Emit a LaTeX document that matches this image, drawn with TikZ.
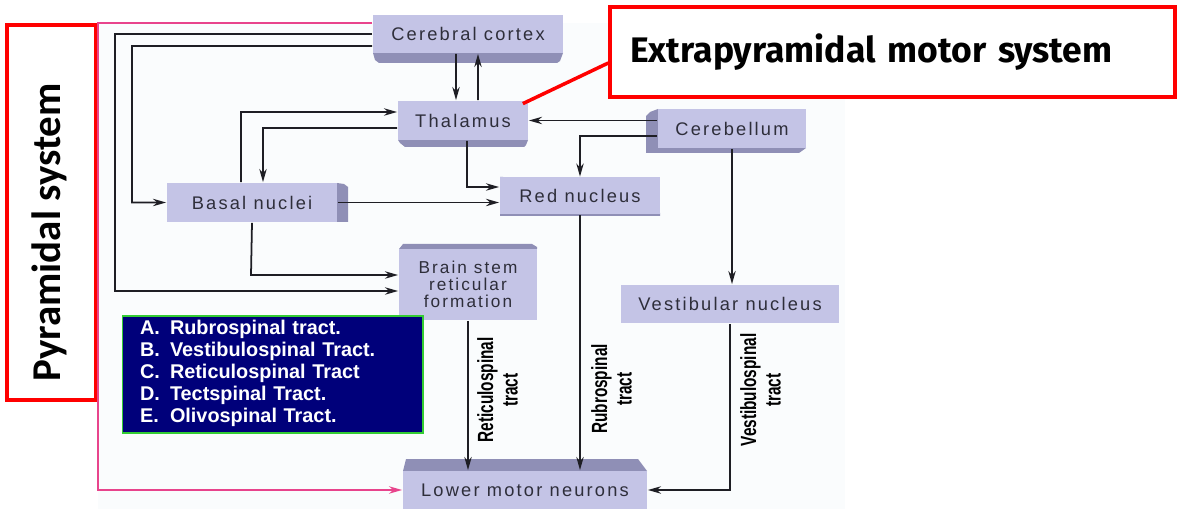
\documentclass[tikz,border=0pt]{standalone}
\usepackage{fontspec}
\setmainfont{Liberation Sans}
\newfontfamily\organfont{Liberation Sans}[LetterSpace=12]
\newfontfamily\calloutfont{Fira Sans}
\newfontfamily\pyramidfont{Carlito}
\usepackage{tikz}
\usetikzlibrary{calc, arrows.meta, positioning}

\definecolor{organFill}{HTML}{C4C4E6}
\definecolor{organShade}{HTML}{8F8FB6}
\definecolor{organText}{HTML}{2E2E3A}
\definecolor{linkGrey}{HTML}{1E1E24}
\definecolor{pinkLine}{HTML}{E8448C}
\definecolor{legendFill}{HTML}{00007A}
\definecolor{legendLine}{HTML}{33CC33}
\definecolor{paper}{HTML}{FAFCFD}

\newcommand{\narrowtxt}[1]{\scalebox{0.7}[1]{#1}}

\begin{document}
\begin{tikzpicture}[x=0.02cm, y=-0.02cm, >={Stealth[length=7.5pt,width=4.2pt]}, line width=1pt]
        % Estilos para las cajas, sombras, textos y conexiones
        \tikzstyle{organ} = [fill=organFill, text=organText, inner sep=0pt, minimum height=0.78cm, font=\organfont\fontsize{10.4}{10.8}\selectfont, align=center]
        \tikzstyle{shade} = [fill=organShade]
        \tikzstyle{tract} = [rotate=90, align=center, inner sep=0pt, font=\bfseries\fontsize{12.5}{14}\selectfont]
        \tikzstyle{link} = [draw=linkGrey, line width=1pt]
        \tikzstyle{callout} = [draw=red, line width=2pt, fill=white, inner sep=0pt]
        \tikzstyle{legend} = [fill=legendFill, draw=legendLine, line width=0.6pt, text=white, inner xsep=0.36cm, inner ysep=0pt, font=\bfseries\fontsize{11.3}{12.5}\selectfont, align=left]

        \useasboundingbox (0,0) rectangle (1182,509);
        \fill [paper] (98,23) rectangle (845,509);

        % Sombras de las cajas
        \fill [shade] (373,53) -- (563,53) -- (560,61) -- (557,63) -- (379,63) -- (375,60) -- cycle;
        \fill [shade] (398,140) -- (528,140) -- (526,145) -- (524,147) -- (405,147) -- (400,143) -- cycle;
        \fill [shade] (337,183) -- (344,184) -- (348,187) -- (348,222) -- (337,222) -- cycle;
        \fill [shade] (658,109) -- (650,112) -- (646,116) -- (646,153) -- (799,153) -- (806,148) -- (658,148) -- cycle;
        \fill [shade] (399,249) -- (403,244) -- (532,244) -- (537,247) -- (537,249) -- cycle;
        \fill [shade] (500,177) -- (503,177) -- (503,213) -- (660,213) -- (660,216) -- (500,216) -- cycle;
        \fill [shade] (403,471) -- (406,459) -- (638,459) -- (647,471) -- cycle;

        % Nodos
        \node [organ, minimum width=3.8cm, minimum height=0.76cm] (cortex) at (468,34) {Cerebral cortex};
        \node [organ, minimum width=2.6cm] (thalamus) at (463,120.5) {Thalamus};
        \node [organ, minimum width=3.4cm] (basal) at (252,202.5) {Basal nuclei};
        \node [organ, minimum width=3.2cm, minimum height=0.74cm] (red) at (580,196) {Red nucleus};
        \node [organ, minimum width=2.96cm] (cerebellum) at (732,128.5) {Cerebellum};
        \node [organ, minimum width=2.76cm, minimum height=1.42cm, font=\organfont\fontsize{9.8}{9.8}\selectfont] (brainStem) at (468,284.5) {Brain stem\\reticular\\formation};
        \node [organ, minimum width=4.36cm, minimum height=0.76cm] (vestibular) at (730,304) {Vestibular nucleus};
        \node [organ, minimum width=4.88cm, minimum height=0.76cm] (lowerMotor) at (525,490) {Lower motor neurons};

        \node [legend, minimum width=6.02cm, minimum height=2.34cm, text width=5.3cm] (legendBox) at (272.5,374.5) {%
          \begin{tabular}{@{}p{0.6cm}@{}l@{}}
            A. & Rubrospinal tract.\\
            B. & Vestibulospinal Tract.\\
            C. & Reticulospinal Tract\\
            D. & Tectspinal Tract.\\
            E. & Olivospinal Tract.
          \end{tabular}};

        \node [callout, minimum width=1.78cm, minimum height=7.5cm] (pyramidal) at (51.5,212.5) {};
        \node [rotate=90, inner sep=0pt, font=\pyramidfont\bfseries\fontsize{23.3}{24}\selectfont] (pyramidalLabel) at (49,232.5) {Pyramidal system};
        \node [callout, text width=10.5cm, align=left, inner xsep=0.4cm, minimum height=1.8cm, font=\calloutfont\bfseries\fontsize{20.2}{22}\selectfont] (extrapyramidal) at (892.5,52) {Extrapyramidal motor system};

        % Puntos de quiebre
        \coordinate (elbowCortex1) at (115,34);
        \coordinate (elbowCortex2) at (115,291);
        \coordinate (elbowCortex3) at (132,46);
        \coordinate (elbowCortex4) at (132,202.5);
        \coordinate (elbowBasal1) at (241,112);
        \coordinate (elbowBasal2) at (251,275);
        \coordinate (elbowThalamus1) at (263,128);
        \coordinate (elbowThalamus2) at (467,187);
        \coordinate (elbowCerebellum) at (580,136);
        \coordinate (elbowVestibular) at (730,490);
        \coordinate (elbowPink1) at (98,23);
        \coordinate (elbowPink2) at (98,490);

        % Conexiones
        \draw [link, ->] ([xshift=-0.24cm]cortex.south) -- ([xshift=-0.14cm]thalamus.north);
        \draw [link, ->] ([xshift=0.3cm]thalamus.north) -- ([xshift=0.2cm]cortex.south);
        \draw [link, ->] (cortex.west) -- (elbowCortex1) -- (elbowCortex2) -- (brainStem.west |- elbowCortex2);
        \draw [link, ->] ([yshift=-0.24cm]cortex.west) -- (elbowCortex3) -- (elbowCortex4) -- (basal.west);
        \draw [link, ->] ([xshift=-0.22cm]basal.north) -- (elbowBasal1) -- (thalamus.west |- elbowBasal1);
        \draw [link, ->] ([yshift=-0.15cm]thalamus.west) -- (elbowThalamus1) -- ([xshift=0.22cm]basal.north);
        \draw [link, ->] ([xshift=0.08cm]thalamus.south) -- (elbowThalamus2) -- (red.west |- elbowThalamus2);
        \draw [link, ->] (basal.east) -- (red.west |- basal.east);
        \draw [link, ->] (basal.south) -- (elbowBasal2) -- (brainStem.west |- elbowBasal2);
        \draw [link, ->] (cerebellum.west |- thalamus.east) -- (thalamus.east);
        \draw [link, ->] (cerebellum.west |- elbowCerebellum) -- (elbowCerebellum) -- (red.north);
        \draw [link, ->] (cerebellum.south) -- (cerebellum.south |- vestibular.north);
        \draw [link, ->] (red.south) -- (red.south |- lowerMotor.north);
        \draw [link, ->] (brainStem.south) -- (brainStem.south |- lowerMotor.north);
        \draw [link, ->] (vestibular.south) -- (elbowVestibular) -- (lowerMotor.east);
        \draw [link, draw=pinkLine, ->] (cortex.west |- elbowPink1) -- (elbowPink1) -- (elbowPink2) -- (lowerMotor.west);
        \draw [red, line width=2pt] ([xshift=-0.12cm, yshift=-0.07cm]thalamus.north east) -- ([yshift=-0.22cm]extrapyramidal.west);

        % Etiquetas de los tractos
        \node [tract] (reticuloLabel) at (497.5,390) {\narrowtxt{Reticulospinal}\\\narrowtxt{tract}};
        \node [tract] (rubroLabel) at (611.5,389) {\narrowtxt{Rubrospinal}\\\narrowtxt{tract}};
        \node [tract] (vestibuloLabel) at (760.5,390) {\narrowtxt{Vestibulospinal}\\\narrowtxt{tract}};
      \end{tikzpicture}
\end{document}
